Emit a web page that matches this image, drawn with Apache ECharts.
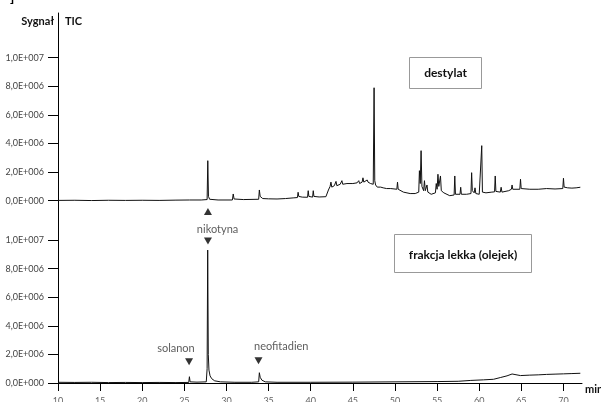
<!DOCTYPE html>
<html><head><meta charset="utf-8">
<script src="https://cdn.jsdelivr.net/npm/echarts@6/dist/echarts.min.js"></script>
<style>html,body{margin:0;padding:0;background:#fff}#c{width:601px;height:402px}</style>
</head><body><div id="c"></div>
<script>
// ---- data ----
const yTickValues = [0, 2e6, 4e6, 6e6, 8e6, 1e7];
const xTickValues = [10, 15, 20, 25, 30, 35, 40, 45, 50, 55, 60, 65, 70];

// destylat (upper chromatogram): [time min, signal]
const destylat = [
  [10,0.02e6],[12,0.03e6],[14,0.01e6],[16,0.03e6],[18,0.02e6],[20,0.03e6],[22,0.02e6],[24,0.04e6],
  [25.6,0.05e6],[25.7,0.15e6],[25.8,0.05e6],[27,0.05e6],[27.7,0.08e6],[27.78,2.8e6],[27.86,0.3e6],
  [28.0,0.1e6],[29,0.05e6],[30.7,0.05e6],[30.8,0.47e6],[30.9,0.12e6],[32,0.08e6],
  [33.82,0.1e6],[33.9,0.75e6],[34.0,0.3e6],[34.3,0.15e6],[35,0.13e6],[36,0.12e6],[37,0.15e6],[38,0.2e6],
  [38.42,0.22e6],[38.5,0.59e6],[38.58,0.3e6],[39,0.25e6],[39.62,0.24e6],[39.7,0.7e6],[39.78,0.3e6],
  [40.22,0.25e6],[40.3,0.7e6],[40.38,0.3e6],[41,0.26e6],[41.8,0.28e6],[42.1,0.75e6],[42.3,1.0e6],
  [42.4,1.3e6],[42.5,0.95e6],[42.8,1.05e6],[43.0,1.35e6],[43.1,1.05e6],[43.5,1.15e6],[43.7,1.4e6],
  [43.8,1.15e6],[44.3,1.2e6],[44.5,1.15e6],[45,1.2e6],[45.5,1.25e6],[45.7,1.4e6],[45.8,1.2e6],
  [46.1,1.3e6],[46.2,1.6e6],[46.3,1.3e6],[46.7,1.45e6],[46.8,1.3e6],[47.1,1.2e6],[47.42,1.15e6],
  [47.52,7.9e6],[47.6,1.4e6],[47.7,1.1e6],[47.9,0.95e6],[48.3,0.95e6],[48.6,0.9e6],[49,0.85e6],
  [49.5,0.85e6],[50.22,0.8e6],[50.3,1.3e6],[50.38,0.8e6],[51,0.6e6],[51.8,0.5e6],[52.4,0.5e6],
  [52.82,0.6e6],[52.9,2.1e6],[53.0,1.2e6],[53.1,3.5e6],[53.2,1.0e6],[53.4,0.7e6],[53.5,1.4e6],
  [53.6,0.7e6],[53.8,1.1e6],[53.9,0.6e6],[54.3,0.45e6],[54.8,0.55e6],[54.9,1.2e6],[55.0,0.8e6],
  [55.1,1.85e6],[55.2,1.0e6],[55.4,1.73e6],[55.5,0.7e6],[55.8,0.55e6],[56.5,0.35e6],[57.02,0.4e6],
  [57.1,1.73e6],[57.18,0.45e6],[57.72,0.45e6],[57.8,0.94e6],[57.88,0.45e6],[58.5,0.45e6],[59.02,0.5e6],
  [59.1,1.96e6],[59.18,0.7e6],[59.4,0.55e6],[59.5,0.9e6],[59.6,0.5e6],[60.0,0.45e6],[60.22,0.5e6],
  [60.3,3.85e6],[60.38,0.6e6],[60.8,0.55e6],[61.5,0.6e6],[61.82,0.62e6],[61.9,1.73e6],[61.98,0.65e6],
  [62.5,0.6e6],[62.6,0.94e6],[62.7,0.6e6],[63.5,0.7e6],[63.82,0.8e6],[63.9,1.1e6],[63.98,0.8e6],
  [64.82,0.8e6],[64.9,1.5e6],[64.98,0.85e6],[66,0.8e6],[67,0.8e6],[68,0.85e6],[69,0.82e6],
  [69.92,0.85e6],[70.0,1.57e6],[70.08,0.95e6],[70.5,0.9e6],[71,0.88e6],[71.5,0.9e6],[72.0,0.94e6]
];

// frakcja lekka (olejek) (lower chromatogram)
const frakcja = [
  [10,0.05e6],[12,0.04e6],[14,0.05e6],[16,0.03e6],[18,0.04e6],[20,0.03e6],[22,0.04e6],[24,0.03e6],
  [25.52,0.04e6],[25.6,0.44e6],[25.68,0.08e6],[26.5,0.06e6],[27.6,0.08e6],[27.7,1.0e6],[27.77,9.3e6],
  [27.84,2.0e6],[27.92,0.9e6],[28.05,0.5e6],[28.25,0.3e6],[28.6,0.15e6],[29.3,0.08e6],
  [31,0.05e6],[33,0.05e6],[33.82,0.08e6],[33.9,0.72e6],[34.0,0.4e6],[34.2,0.2e6],[34.6,0.08e6],
  [36,0.05e6],[40,0.05e6],[45,0.06e6],[50,0.08e6],[55,0.1e6],[57.5,0.12e6],[59,0.18e6],[60.5,0.22e6],
  [61.7,0.26e6],[62.5,0.38e6],[63.3,0.5e6],[63.9,0.63e6],[64.1,0.52e6],[64.9,0.52e6],[66,0.55e6],
  [67,0.57e6],[68,0.6e6],[69,0.62e6],[70,0.64e6],[71,0.66e6],[72,0.68e6]
];

// peak annotations (placed in lower panel coordinates)
const upMarks = [[27.8, 12.0e6]];
const downMarks = [[27.8, 9.93e6], [25.56, 1.49e6], [33.8, 1.56e6]];
const peakLabels = [[28.94, 10.77e6, 'nikotyna'], [24.0, 2.43e6, 'solanon'], [36.5, 2.59e6, 'neofitadien']];

const xMin = 10, xMax = 72.2;
const yMaxTop = 1.313e7, yMaxBottom = 1.273e7;

function sci(v) {
  if (v === 0) return '0,0E+000';
  const e = Math.floor(Math.log10(v) + 1e-9);
  const m = v / Math.pow(10, e);
  return m.toFixed(1).replace('.', ',') + 'E+' + String(e).padStart(3, '0');
}

const FONT = 'Lato';
const chart = echarts.init(document.getElementById('c'), null, {renderer: 'canvas'});

function yAxis(gridIndex, max) {
  return {
    type: 'value', gridIndex, min: 0, max,
    axisLine: {show: true, lineStyle: {color: '#000', width: 1}},
    axisTick: {show: true, length: 10, inside: false, customValues: yTickValues, lineStyle: {color: '#000'}},
    axisLabel: {customValues: yTickValues, formatter: sci, margin: 14, fontSize: 9, color: '#444', fontFamily: FONT},
    splitLine: {show: false}
  };
}

chart.setOption({
  animation: false,
  backgroundColor: '#fff',
  grid: [
    {left: 58, top: 13, width: 524, height: 187.7, containLabel: false, outerBoundsMode: 'none'},
    {left: 58, top: 201, width: 524, height: 182, containLabel: false, outerBoundsMode: 'none'}
  ],
  xAxis: [
    {type: 'value', gridIndex: 0, min: xMin, max: xMax, show: false},
    {type: 'value', gridIndex: 1, min: xMin, max: xMax,
     name: 'min', nameLocation: 'end', nameGap: 3,
     nameTextStyle: {fontWeight: 'bold', fontSize: 11, color: '#111', fontFamily: FONT, verticalAlign: 'top', padding: [1, 0, 0, 0]},
     axisLine: {show: true, lineStyle: {color: '#000', width: 1}},
     axisTick: {show: true, length: 8, customValues: xTickValues, lineStyle: {color: '#000'}},
     axisLabel: {customValues: xTickValues, margin: 14, fontSize: 9, color: '#666', fontFamily: FONT},
     splitLine: {show: false}}
  ],
  yAxis: [yAxis(0, yMaxTop), yAxis(1, yMaxBottom)],
  series: [
    {type: 'line', name: 'destylat', xAxisIndex: 0, yAxisIndex: 0, data: destylat,
     showSymbol: false, symbol: 'none', lineStyle: {color: '#111', width: 1}},
    {type: 'line', name: 'frakcja lekka (olejek)', xAxisIndex: 1, yAxisIndex: 1, data: frakcja,
     showSymbol: false, symbol: 'none', lineStyle: {color: '#111', width: 1}},
    {type: 'scatter', xAxisIndex: 1, yAxisIndex: 1, data: upMarks, symbol: 'triangle',
     symbolSize: [8, 7], itemStyle: {color: '#000'}, silent: true},
    {type: 'scatter', xAxisIndex: 1, yAxisIndex: 1, data: downMarks, symbol: 'triangle',
     symbolRotate: 180, symbolSize: [8, 7], itemStyle: {color: '#000'}, silent: true},
    {type: 'scatter', xAxisIndex: 1, yAxisIndex: 1, data: peakLabels, symbolSize: 0, silent: true,
     label: {show: true, position: 'inside', formatter: p => p.data[2], fontSize: 11, color: '#333', fontFamily: FONT}}
  ],
  graphic: [
    {type: 'text', left: 10, top: -10, style: {text: ']', font: 'bold 14px Lato', fill: '#000'}},
    {type: 'text', right: 601 - 54, top: 16, style: {text: 'Sygnał', font: 'bold 11px Lato', fill: '#111'}},
    {type: 'text', left: 65, top: 16, style: {text: 'TIC', font: 'bold 11px Lato', fill: '#111'}},
    {type: 'group', left: 409, top: 57, children: [
      {type: 'rect', shape: {x: 0, y: 0, width: 72, height: 31}, style: {fill: '#fff', stroke: '#999', lineWidth: 1}},
      {type: 'text', x: 36, y: 16, style: {text: 'destylat', font: 'bold 12px Lato', fill: '#111', align: 'center', verticalAlign: 'middle'}}
    ]},
    {type: 'group', left: 394, top: 234, children: [
      {type: 'rect', shape: {x: 0, y: 0, width: 137, height: 38}, style: {fill: '#fff', stroke: '#999', lineWidth: 1}},
      {type: 'text', x: 68.5, y: 21, style: {text: 'frakcja lekka (olejek)', font: 'bold 12px Lato', fill: '#111', align: 'center', verticalAlign: 'middle'}}
    ]}
  ]
});
</script>
</body></html>
